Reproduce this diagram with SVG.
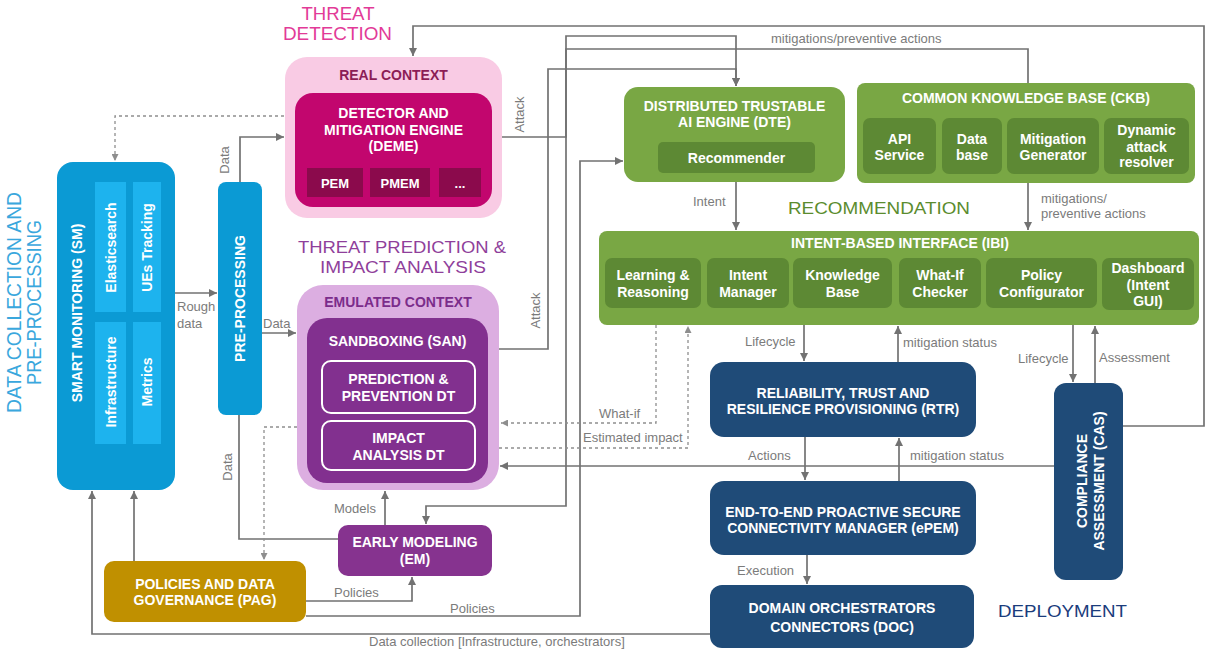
<svg xmlns="http://www.w3.org/2000/svg" width="1206" height="651" viewBox="0 0 1206 651">
<style>
  .w { fill:#ffffff; font-family:"Liberation Sans", Arial, sans-serif; font-weight:bold; font-size:14px; text-anchor:middle; }
  .ws { font-size:13px; }
  .lbl { fill:#7b7b7b; font-family:"Liberation Sans", Arial, sans-serif; font-size:13px; }
  .ln { fill:none; stroke:#727272; stroke-width:1.7; }
  .dash { fill:none; stroke:#8e8e8e; stroke-width:1.3; stroke-dasharray:3 3; }
  .sec { font-family:"Liberation Sans", Arial, sans-serif; text-anchor:middle; }
  .blue { fill:#0b9ad4; }
  .blue2 { fill:#1db3ee; }
  .green { fill:#79a744; }
  .green2 { fill:#5d8934; }
  .navy { fill:#1f4b78; }
</style>
<defs>
  <marker id="arr" viewBox="0 0 8 8" refX="8" refY="4" markerWidth="8" markerHeight="8" markerUnits="userSpaceOnUse" orient="auto">
    <path d="M0,0 L8,4 L0,8 z" fill="#727272"/>
  </marker>
  <marker id="arrd" viewBox="0 0 8 8" refX="8" refY="4" markerWidth="7" markerHeight="7" markerUnits="userSpaceOnUse" orient="auto">
    <path d="M0,0 L8,4 L0,8 z" fill="#8e8e8e"/>
  </marker>
</defs>
<rect width="1206" height="651" fill="#ffffff"/>

<!-- section headings -->
<g id="headings">
  <text class="sec" fill="#3aa7dd" font-size="19.5" transform="translate(21,302.5) rotate(-90)" textLength="221" lengthAdjust="spacingAndGlyphs">DATA COLLECTION AND</text>
  <text class="sec" fill="#3aa7dd" font-size="19.5" transform="translate(41,302.5) rotate(-90)" textLength="165" lengthAdjust="spacingAndGlyphs">PRE-PROCESSING</text>
  <text class="sec" fill="#e23a97" font-size="18" x="338" y="20" textLength="73" lengthAdjust="spacingAndGlyphs">THREAT</text>
  <text class="sec" fill="#e23a97" font-size="18" x="337.5" y="40" textLength="109" lengthAdjust="spacingAndGlyphs">DETECTION</text>
  <text class="sec" fill="#8f3f9b" font-size="17" x="402" y="253" textLength="208" lengthAdjust="spacingAndGlyphs">THREAT PREDICTION &amp;</text>
  <text class="sec" fill="#8f3f9b" font-size="17" x="403" y="273" textLength="166" lengthAdjust="spacingAndGlyphs">IMPACT ANALYSIS</text>
  <text class="sec" fill="#5b8c2e" font-size="16" x="879" y="214" textLength="182" lengthAdjust="spacingAndGlyphs">RECOMMENDATION</text>
  <text class="sec" fill="#1b3c7c" font-size="17" x="1062.5" y="617" textLength="129" lengthAdjust="spacingAndGlyphs">DEPLOYMENT</text>
</g>

<!-- connectors -->
<g id="connectors">
  <path class="dash" d="M302,116 H115 V161" marker-end="url(#arrd)"/>
  <path class="ln" d="M240,182 V137 H284" marker-end="url(#arr)"/>
  <path class="ln" d="M175,293 H217" marker-end="url(#arr)"/>
  <path class="ln" d="M262,333 H296" marker-end="url(#arr)"/>
  <path class="ln" d="M239,415 V539 H338"/>
  <path class="dash" d="M297,427 H264 V560" marker-end="url(#arrd)"/>
  <path class="ln" d="M385,525 V491" marker-end="url(#arr)"/>
  <path class="ln" d="M306,601 H412 V577" marker-end="url(#arr)"/>
  <path class="ln" d="M306,616 H580 V161 H623" marker-end="url(#arr)"/>
  <path class="ln" d="M710,634 H92 V491" marker-end="url(#arr)"/>
  <path class="ln" d="M134,561 V491" marker-end="url(#arr)"/>
  <path class="ln" d="M502,137 H566 V36 H736 V86" marker-end="url(#arr)"/>
  <path class="ln" d="M1028,83 V49 H566 V506 H426 V524" marker-end="url(#arr)"/>
  <path class="ln" d="M499,349 H548 V69 H736 V86" marker-end="url(#arr)"/>
  <path class="ln" d="M1123,426 H1204 V26 H413 V56" marker-end="url(#arr)"/>
  <path class="ln" d="M736,182 V230" marker-end="url(#arr)"/>
  <path class="ln" d="M1028,183 V230" marker-end="url(#arr)"/>
  <path class="ln" d="M804,325 V361" marker-end="url(#arr)"/>
  <path class="ln" d="M898,362 V326" marker-end="url(#arr)"/>
  <path class="ln" d="M805,437 V480" marker-end="url(#arr)"/>
  <path class="ln" d="M899,481 V438" marker-end="url(#arr)"/>
  <path class="ln" d="M1054,466 H500" marker-end="url(#arr)"/>
  <path class="ln" d="M1073,325 V382" marker-end="url(#arr)"/>
  <path class="ln" d="M1095,383 V326" marker-end="url(#arr)"/>
  <path class="ln" d="M807,555 V584" marker-end="url(#arr)"/>
  <path class="dash" d="M656,325 V423 H501" marker-end="url(#arrd)"/>
  <path class="dash" d="M499,448 H688 V326" marker-end="url(#arrd)"/>

  <text class="lbl" text-anchor="middle" transform="translate(524,114.5) rotate(-90)">Attack</text>
  <text class="lbl" text-anchor="middle" transform="translate(540,310.5) rotate(-90)">Attack</text>
  <text class="lbl" text-anchor="middle" transform="translate(229,160) rotate(-90)">Data</text>
  <text class="lbl" text-anchor="middle" transform="translate(232,467) rotate(-90)">Data</text>
  <text class="lbl" x="177" y="311">Rough</text>
  <text class="lbl" x="177" y="328">data</text>
  <text class="lbl" x="263" y="328">Data</text>
  <text class="lbl" x="334" y="513">Models</text>
  <text class="lbl" x="334" y="597">Policies</text>
  <text class="lbl" x="450" y="613">Policies</text>
  <text class="lbl" x="693" y="206">Intent</text>
  <text class="lbl" x="771" y="43">mitigations/preventive actions</text>
  <text class="lbl" x="1041" y="203">mitigations/</text>
  <text class="lbl" x="1041" y="218">preventive actions</text>
  <text class="lbl" x="745" y="346">Lifecycle</text>
  <text class="lbl" x="903" y="347">mitigation status</text>
  <text class="lbl" x="748" y="460">Actions</text>
  <text class="lbl" x="910" y="460">mitigation status</text>
  <text class="lbl" x="1018" y="363">Lifecycle</text>
  <text class="lbl" x="1099" y="362">Assessment</text>
  <text class="lbl" x="737" y="575">Execution</text>
  <text class="lbl" x="599" y="418">What-if</text>
  <text class="lbl" x="583" y="442">Estimated impact</text>
  <text class="lbl" x="369" y="646">Data collection [Infrastructure, orchestrators]</text>
</g>

<!-- smart monitoring -->
<g id="sm">
  <rect class="blue" x="57" y="162" width="118" height="328" rx="16"/>
  <rect class="blue2" x="95" y="182" width="31" height="130"/>
  <rect class="blue2" x="133" y="182" width="28" height="130"/>
  <rect class="blue2" x="95" y="322" width="31" height="122"/>
  <rect class="blue2" x="133" y="322" width="28" height="122"/>
  <text class="w" font-size="13.5" transform="translate(77,313) rotate(-90)" y="5">SMART MONITORING (SM)</text>
  <text class="w" transform="translate(110.5,247.5) rotate(-90)" y="5">Elasticsearch</text>
  <text class="w" transform="translate(147,247.5) rotate(-90)" y="5">UEs Tracking</text>
  <text class="w" transform="translate(110.5,382) rotate(-90)" y="5">Infrastructure</text>
  <text class="w" transform="translate(147,382) rotate(-90)" y="5">Metrics</text>
</g>

<!-- pre-processing -->
<g id="pre">
  <rect class="blue" x="218" y="182" width="44" height="233" rx="8"/>
  <text class="w" transform="translate(240,298.5) rotate(-90)" y="5">PRE-PROCESSING</text>
</g>

<!-- real context / DEME -->
<g id="deme">
  <rect x="285" y="57" width="217" height="161" rx="22" fill="#f9cbe4"/>
  <text class="w" x="393.5" y="80" style="fill:#8c1d56">REAL CONTEXT</text>
  <rect x="295" y="93" width="197" height="114" rx="18" fill="#c2066e"/>
  <text class="w" x="393.5" y="118">DETECTOR AND</text>
  <text class="w" x="393.5" y="134.5">MITIGATION  ENGINE</text>
  <text class="w" x="393.5" y="151">(DEME)</text>
  <rect x="307" y="168" width="56" height="29" fill="#8b0a4c"/>
  <rect x="370" y="168" width="60" height="29" fill="#8b0a4c"/>
  <rect x="439" y="168" width="42" height="29" fill="#8b0a4c"/>
  <text class="w ws" x="335" y="188">PEM</text>
  <text class="w ws" x="400" y="188">PMEM</text>
  <text class="w ws" x="460" y="188">...</text>
</g>

<!-- emulated context / sandboxing -->
<g id="san">
  <rect x="297" y="285" width="202" height="205" rx="26" fill="#dcaee1"/>
  <text class="w" x="398" y="307" style="fill:#7b2c8b">EMULATED CONTEXT</text>
  <rect x="307" y="318" width="181" height="165" rx="20" fill="#82308f"/>
  <text class="w" x="397.5" y="346">SANDBOXING (SAN)</text>
  <rect x="322" y="361" width="153" height="52" rx="9" fill="#82308f" stroke="#ffffff" stroke-width="2"/>
  <text class="w" x="398.5" y="384">PREDICTION &amp;</text>
  <text class="w" x="398.5" y="401">PREVENTION DT</text>
  <rect x="322" y="421" width="153" height="49" rx="9" fill="#82308f" stroke="#ffffff" stroke-width="2"/>
  <text class="w" x="398.5" y="443">IMPACT</text>
  <text class="w" x="398.5" y="460">ANALYSIS DT</text>
</g>

<!-- early modeling -->
<g id="em">
  <rect x="338" y="525" width="154" height="51" rx="10" fill="#86338f"/>
  <text class="w" x="415" y="547">EARLY MODELING</text>
  <text class="w" x="415" y="564">(EM)</text>
</g>

<!-- policies and data governance -->
<g id="pag">
  <rect x="104" y="561" width="202" height="61" rx="10" fill="#c09000"/>
  <text class="w" x="205" y="589">POLICIES AND DATA</text>
  <text class="w" x="205" y="605">GOVERNANCE (PAG)</text>
</g>

<!-- distributed trustable AI engine -->
<g id="dte">
  <rect class="green" x="624" y="87" width="221" height="95" rx="14"/>
  <text class="w" x="734.5" y="110.5">DISTRIBUTED TRUSTABLE</text>
  <text class="w" x="734.5" y="127">AI ENGINE (DTE)</text>
  <rect class="green2" x="658" y="142" width="157" height="31" rx="5"/>
  <text class="w" x="736.5" y="163">Recommender</text>
</g>

<!-- common knowledge base -->
<g id="ckb">
  <rect class="green" x="857" y="83" width="338" height="100" rx="8"/>
  <text class="w" x="1026" y="103">COMMON KNOWLEDGE BASE (CKB)</text>
  <rect class="green2" x="863" y="118" width="73" height="56" rx="7"/>
  <rect class="green2" x="942" y="118" width="60" height="56" rx="7"/>
  <rect class="green2" x="1007" y="118" width="92" height="56" rx="7"/>
  <rect class="green2" x="1104" y="118" width="85" height="56" rx="7"/>
  <text class="w" x="899.5" y="144">API</text>
  <text class="w" x="899.5" y="160">Service</text>
  <text class="w" x="972" y="144">Data</text>
  <text class="w" x="972" y="160">base</text>
  <text class="w" x="1053" y="143.5">Mitigation</text>
  <text class="w" x="1053" y="160">Generator</text>
  <text class="w" x="1146.5" y="135">Dynamic</text>
  <text class="w" x="1146.5" y="151.5">attack</text>
  <text class="w" x="1146.5" y="167">resolver</text>
</g>

<!-- intent-based interface -->
<g id="ibi">
  <rect class="green" x="599" y="231" width="600" height="94" rx="8"/>
  <text class="w" x="900" y="248">INTENT-BASED INTERFACE (IBI)</text>
  <rect class="green2" x="605" y="258" width="96" height="50" rx="7"/>
  <rect class="green2" x="707" y="258" width="82" height="50" rx="7"/>
  <rect class="green2" x="793" y="258" width="99" height="50" rx="7"/>
  <rect class="green2" x="899" y="258" width="82" height="50" rx="7"/>
  <rect class="green2" x="986" y="258" width="111" height="50" rx="7"/>
  <rect class="green2" x="1102" y="258" width="92" height="52" rx="7"/>
  <text class="w" x="653" y="280">Learning &amp;</text>
  <text class="w" x="653" y="296.5">Reasoning</text>
  <text class="w" x="748" y="280">Intent</text>
  <text class="w" x="748" y="296.5">Manager</text>
  <text class="w" x="842.5" y="280">Knowledge</text>
  <text class="w" x="842.5" y="296.5">Base</text>
  <text class="w" x="940" y="280">What-If</text>
  <text class="w" x="940" y="296.5">Checker</text>
  <text class="w" x="1041.5" y="280">Policy</text>
  <text class="w" x="1041.5" y="296.5">Configurator</text>
  <text class="w" x="1148" y="273">Dashboard</text>
  <text class="w" x="1148" y="289.5">(Intent</text>
  <text class="w" x="1148" y="306">GUI)</text>
</g>

<!-- reliability, trust and resilience provisioning -->
<g id="rtr">
  <rect class="navy" x="710" y="362" width="266" height="75" rx="14"/>
  <text class="w" x="843" y="398">RELIABILITY,  TRUST AND</text>
  <text class="w" x="843" y="414">RESILIENCE PROVISIONING (RTR)</text>
</g>

<!-- proactive secure connectivity manager -->
<g id="epem">
  <rect class="navy" x="710" y="481" width="266" height="74" rx="14"/>
  <text class="w" x="843" y="517">END-TO-END PROACTIVE SECURE</text>
  <text class="w" x="843" y="533">CONNECTIVITY MANAGER (ePEM)</text>
</g>

<!-- domain orchestrators connectors -->
<g id="doc">
  <rect class="navy" x="710" y="585" width="264" height="63" rx="12"/>
  <text class="w" x="842" y="613">DOMAIN ORCHESTRATORS</text>
  <text class="w" x="842" y="632">CONNECTORS (DOC)</text>
</g>

<!-- compliance assessment -->
<g id="cas">
  <rect class="navy" x="1054" y="383" width="69" height="197" rx="12"/>
  <text class="w" transform="translate(1087,481) rotate(-90)">COMPLIANCE</text>
  <text class="w" transform="translate(1104,481) rotate(-90)">ASSESSMENT (CAS)</text>
</g>
</svg>
